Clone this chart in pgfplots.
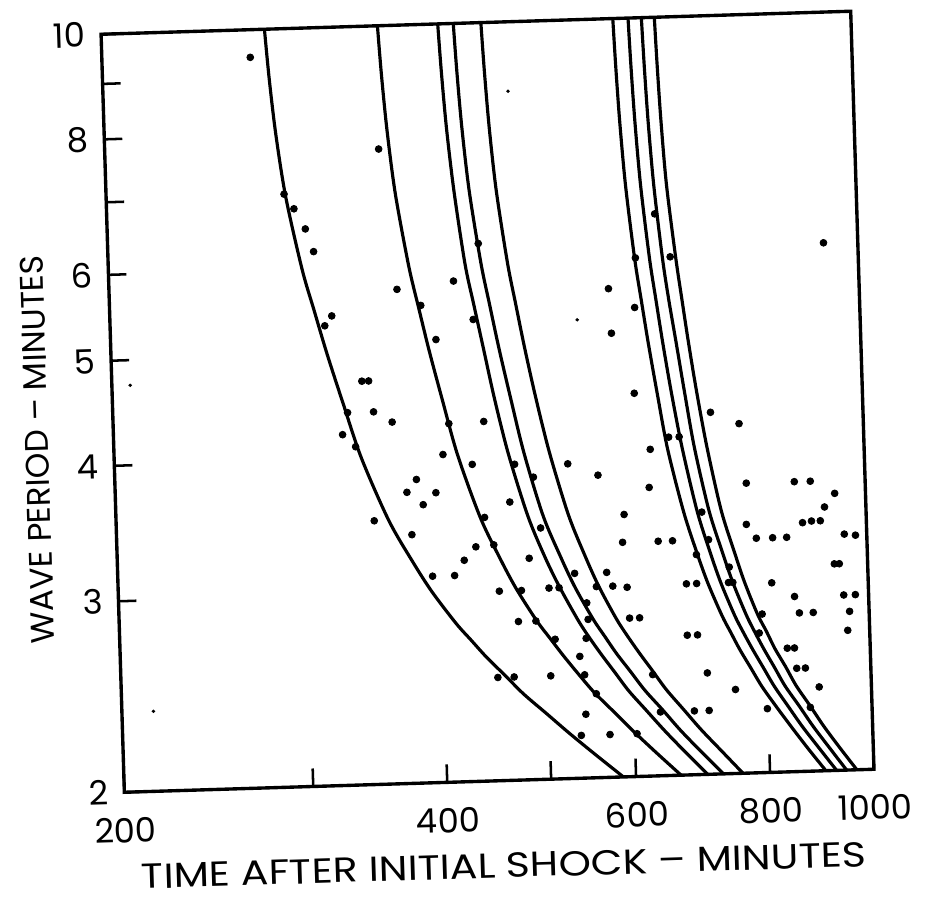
\documentclass[border=0pt]{standalone}
\usepackage{fontspec}
\setmainfont{Poppins}
\newfontfamily\widefont[FakeStretch=1.18]{Poppins}
\usepackage{pgfplots}
\pgfplotsset{compat=1.18}

% curve data: time (min) at fixed wave periods
\pgfplotstableread{
T    c1  c2  c3  c4  c5  c6  c7  c8  c9
10   284 362 412 426 452 600 620 638 656
9    286 364 414 428 454 602 622 640 658
8    289 367 417 431 457 605 625 643 661
7    294 372 422 436 462 610 630 648 666
6    303 381 430 445 471 619 639 657 676
5.5  310 388 437 452 478 626 646 664 683
5    318 396 445 460 486 634 654 673 691
4.5  328 406 454 470 496 644 664 683 701
4    340 418 466 482 509 656 677 695 714
3.5  359 437 484 500 528 676 696 714 733
3.2  377 455 501 518 546 694 714 733 752
3    392 470 516 533 561 709 729 748 767
2.8  412 490 535 553 581 729 749 768 787
2.7  425 503 547 566 594 742 762 781 801
2.6  439 517 561 580 609 756 777 796 815
2.5  456 533 577 597 626 773 794 813 833
2.4  474 551 594 615 644 791 812 831 851
2.3  497 574 616 638 667 814 835 855 875
2.2  522 599 640 662 692 840 860 880 900
2.1  551 628 668 691 722 869 890 910 930
2    584 661 700 724 755 902 923 943 964
}\curves

\begin{document}
\begin{tikzpicture}
\useasboundingbox (-1.875,-1.9675) rectangle (13.675,13.016);
\begin{scope}[transform canvas={rotate around={1.76:(6.25,6.32)}}]
\begin{axis}[
  scale only axis,
  width=12.5cm, height=12.64cm,
  xmode=log, ymode=log,
  xmin=200, xmax=1000, ymin=2, ymax=10,
  xtick={200,300,400,500,600,800,1000},
  xticklabels={200,,400,,600,800,1000},
  ytick={2,3,4,5,6,7,8,9,10},
  yticklabels={2,3,4,5,6,,8,,10},
  minor xtick={}, minor ytick={},
  xtick pos=bottom, ytick pos=left,
  tick align=inside,
  major tick length=0.3cm,
  axis line style={line width=1.6pt},
  every tick/.style={black, line width=1.2pt},
  tick label style={font=\fontsize{16}{19}\selectfont, inner sep=0pt},
  xticklabel style={yshift=-0.42cm},
  yticklabel style={xshift=-0.26cm},
  xlabel={\widefont TIME AFTER INITIAL SHOCK – MINUTES},
  xlabel style={font=\fontsize{16.5}{19}\selectfont, at={(axis description cs:0.503,-0.112)}, anchor=center},
  ylabel={WAVE PERIOD – MINUTES},
  ylabel style={font=\fontsize{15.5}{18}\selectfont, at={(axis description cs:-0.102,0.455)}, anchor=center, rotate=0},
]
\foreach \c in {c1,c2,c3,c4,c5,c6,c7,c8,c9}{
  \addplot[black, line width=1.5pt, smooth] table[x=\c, y=T] {\curves};
}
% observed periods
\addplot[only marks, mark=*, mark size=1.6pt, black] coordinates {
(275,9.43) (360,7.70) (293,7.04) (299,6.82) (306,6.53) (311,6.22)
(371,5.71) (390,5.51) (419,5.79) (443,6.26) (436,5.33) (402,5.12)
(322,5.42) (317,5.31) (342,4.71) (347,4.71) (331,4.41) (350,4.41)
(364,4.31) (327,4.21) (336,4.10) (405,4.01) (443,4.29) (411,4.28)
(431,3.92) (382,3.81) (374,3.71) (398,3.70) (387,3.61) (348,3.50)
(377,3.39) (441,3.50) (432,3.29) (449,3.30) (421,3.20) (412,3.10)
(393,3.10) (453,2.99) (449,2.49) (465,2.49)
(648,6.59) (620,6.01) (668,6.01) (584,5.64) (617,5.41) (586,5.13)
(613,4.51) (721,4.31) (929,6.13) (766,4.20) (632,4.00) (529,3.90)
(564,3.80) (658,4.10) (673,4.10) (629,3.69) (466,3.61) (595,3.49)
(775,3.70) (859,3.70) (889,3.70) (936,3.60) (915,3.50) (872,3.39)
(889,3.40) (906,3.40) (773,3.39) (789,3.29) (817,3.29) (842,3.29)
(953,3.30) (976,3.29) (592,3.29) (639,3.29) (659,3.29) (703,3.49)
(472,3.91) (491,3.80) (497,3.41) (484,3.20) (533,3.09) (571,3.09)
(558,3.00) (578,3.00) (596,2.99) (693,3.19) (712,3.29) (743,3.10)
(741,3.00) (748,3.00) (931,3.10) (941,3.10) (813,2.99) (475,2.99)
(504,3.00) (515,3.00) (677,3.00) (692,3.00) (853,2.90) (948,2.90)
(972,2.90) (959,2.80) (861,2.80) (887,2.80) (954,2.69) (546,2.90)
(489,2.80) (471,2.80) (509,2.69) (598,2.80) (611,2.80) (544,2.69)
(676,2.69) (691,2.69) (536,2.59) (795,2.80) (789,2.69) (837,2.60)
(850,2.60) (503,2.49) (541,2.49) (626,2.48) (704,2.48) (853,2.49)
(869,2.49) (894,2.39) (747,2.39) (554,2.39) (683,2.29) (705,2.29)
(799,2.29) (541,2.29) (635,2.29) (876,2.29) (535,2.19) (569,2.19)
(603,2.19) (547,2.80)
};
% faint specks on the scan
\addplot[only marks, mark=*, mark size=0.6pt, black] coordinates {
(214,2.37) (208,4.74) (545,5.29) (477,8.63)
};
\end{axis}
\end{scope}
\end{tikzpicture}
\end{document}
